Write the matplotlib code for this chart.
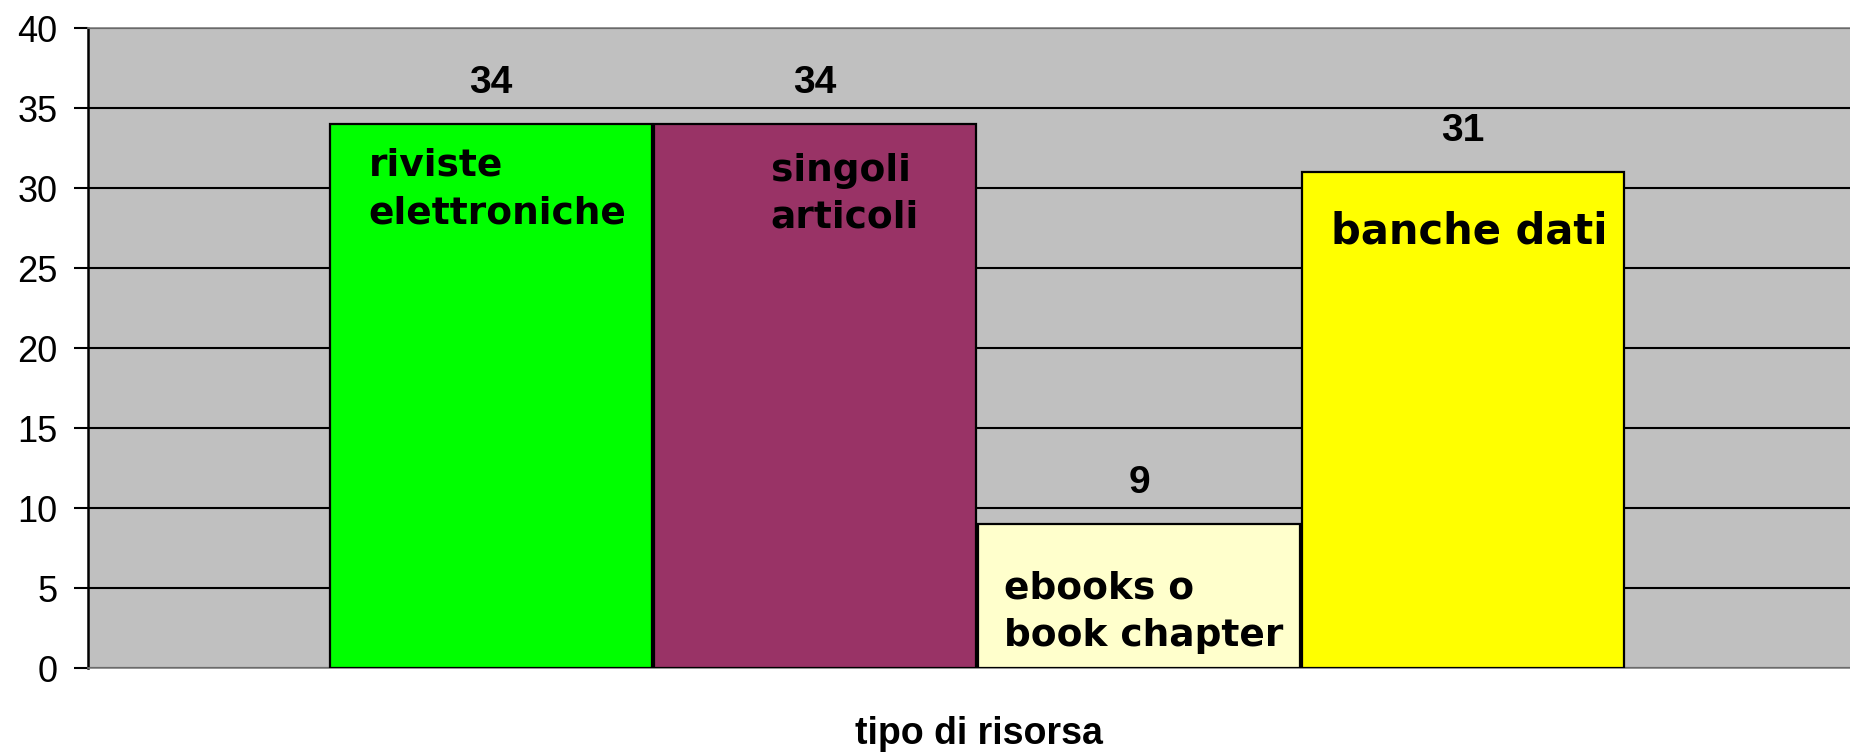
import matplotlib.pyplot as plt

# dati
categorie = ['riviste\nelettroniche', 'singoli\narticoli', 'ebooks o\nbook chapter', 'banche dati']
valori = [34, 34, 9, 31]
colori = ['#00FF00', '#993366', '#FFFFCC', '#FFFF00']
yticks = [0, 5, 10, 15, 20, 25, 30, 35, 40]

# posizione delle etichette dentro le barre (x relativo al bordo sinistro, y in unita')
lab_dx = [0.12, 0.36, 0.08, 0.09]
lab_y = [29.9, 29.6, 3.5, 27.25]
lab_fs = [27, 27, 27, 30]

fig = plt.figure(figsize=(18.5, 7.52), dpi=100)
ax = fig.add_axes([88 / 1850, 1 - 668 / 752, 1 - 88 / 1850, 640 / 752])
ax.set_facecolor('#C0C0C0')

x = list(range(len(valori)))
larg = 0.995
bars = ax.bar(x, valori, width=larg, color=colori, edgecolor='black', linewidth=1.6, zorder=3)

ax.set_xlim(-1.244, 4.194)
ax.set_ylim(0, 40)
ax.set_yticks(yticks)
ax.set_yticklabels([str(v) for v in yticks], fontsize=26, family='Liberation Sans')
ax.tick_params(axis='y', length=10, width=1.5, pad=12, colors='black')
ax.set_xticks([])
ax.grid(axis='y', color='black', linewidth=1.5, zorder=1)

for s in ['top', 'bottom']:
    ax.spines[s].set_color('#808080')
    ax.spines[s].set_linewidth(1.2)
ax.spines['right'].set_visible(False)
ax.spines['left'].set_linewidth(1.8)

# valori sopra le barre
for xi, v in zip(x, valori):
    ax.text(xi, v + 2.55, str(v), ha='center', va='center', fontsize=28,
            fontweight='bold', family='Liberation Sans', zorder=4)

# etichette dentro le barre
for xi, cat, dx, yy, fs in zip(x, categorie, lab_dx, lab_y, lab_fs):
    ax.text(xi - larg / 2 + dx, yy, cat, ha='left', va='center', fontsize=fs,
            fontweight='bold', family='DejaVu Sans', linespacing=1.4, zorder=4)

fig.text(979 / 1850, 1 - 734 / 752, 'tipo di risorsa', ha='center', va='center',
         fontsize=27, fontweight='bold', family='Liberation Sans')

fig.savefig('out.png', dpi=100)
